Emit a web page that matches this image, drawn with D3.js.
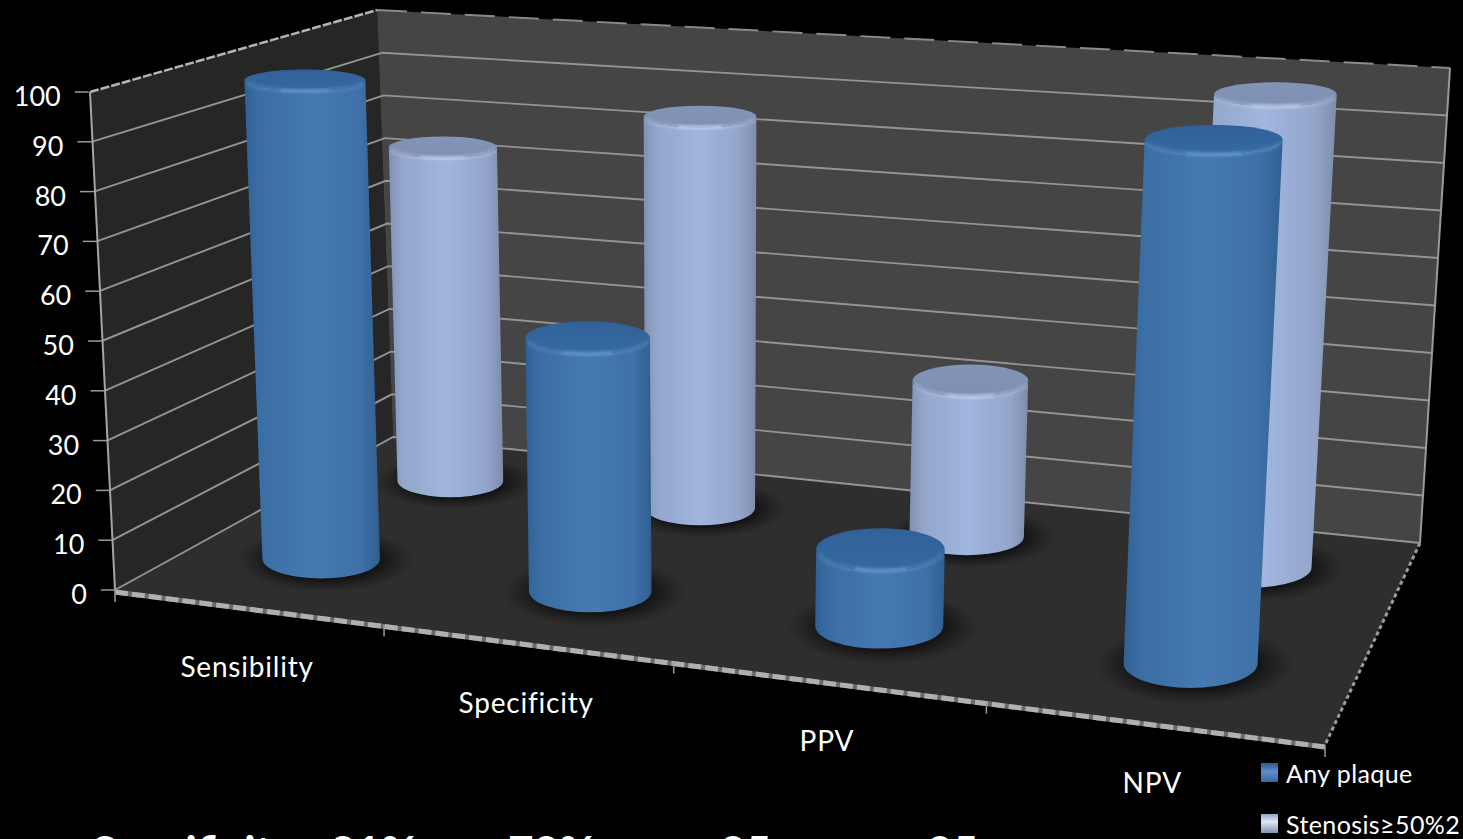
<!DOCTYPE html>
<html>
<head>
<meta charset="utf-8">
<script src="https://cdn.jsdelivr.net/npm/d3@7"></script>
<style>
  html, body { margin: 0; background: #000; overflow: hidden; }
  svg { display: block; }
  text { font-family: Lato, "Open Sans", sans-serif; fill: #fff; }
</style>
</head>
<body>
<div id="chart"></div>
<script>
const categories = ["Sensibility", "Specificity", "PPV", "NPV"];
const seriesNames = ["Any plaque", "Stenosis≥50%2"];
const anyPlaque = [99, 51, 15, 100];
const stenosis = [74.5, 85, 33, 97.5];
const valueTicks = d3.range(0, 101, 10);
const footerCells = ["Specificity", "21%", "78%", "25", "85"];
const footerX = [92, 330, 508, 720, 927];

const width = 1463;
const height = 839;

// corners of the box, floor and top plane, ordered front-left, front-right, back-right, back-left
const floorQuad = [[115, 590], [1325, 745], [1420, 543], [393, 437]];
const topQuad = [[90, 92], [1347, 192], [1450, 68], [377, 10]];

// verticals converge slightly toward a point far below the box
const vanishX = 700;
const lean = 0.9e-4;

function squareToQuad(q) {
  const [[x0, y0], [x1, y1], [x2, y2], [x3, y3]] = q;
  const dx1 = x1 - x2, dx2 = x3 - x2, sx = x0 - x1 + x2 - x3;
  const dy1 = y1 - y2, dy2 = y3 - y2, sy = y0 - y1 + y2 - y3;
  const den = dx1 * dy2 - dx2 * dy1;
  const g = (sx * dy2 - dx2 * sy) / den;
  const h = (dx1 * sy - sx * dy1) / den;
  const a = x1 - x0 + g * x1, b = x3 - x0 + h * x3;
  const d = y1 - y0 + g * y1, e = y3 - y0 + h * y3;
  return (u, v) => {
    const w = g * u + h * v + 1;
    return [(a * u + b * v + x0) / w, (d * u + e * v + y0) / w];
  };
}

const onFloor = squareToQuad(floorQuad);
const onTop = squareToQuad(topQuad);

const yScale = d3.scaleLinear().domain([0, 100]).range([0, 1]);
const uScale = d3.scaleBand().domain(categories).range([0, 1]);
const vScale = d3.scaleBand().domain(seriesNames).range([0.015, 1.015]);
// the cylinders sit a touch left of their band centres
const barU = d3.scaleBand().domain(categories).range([-0.005, 1.001]);

// 3D box coordinate to screen position
function project(u, v, value) {
  const t = yScale(value);
  const a = onFloor(u, v);
  const rise = (a[1] - onTop(u, v)[1]) * t;
  return [a[0] + (a[0] - vanishX) * rise * lean, a[1] - rise];
}

const svg = d3.select("#chart").append("svg").attr("width", width).attr("height", height);
const defs = svg.append("defs");

defs.append("filter").attr("id", "soft").append("feGaussianBlur").attr("stdDeviation", 0.7);
defs.append("filter").attr("id", "rim")
  .attr("x", "-20%").attr("y", "-200%").attr("width", "140%").attr("height", "500%")
  .append("feGaussianBlur").attr("stdDeviation", 1.5);

function addGradient(id, stops, vertical) {
  const g = defs.append("linearGradient").attr("id", id)
    .attr("x1", 0).attr("y1", 0)
    .attr("x2", vertical ? 0 : 1).attr("y2", vertical ? 1 : 0);
  stops.forEach(([offset, color]) => g.append("stop").attr("offset", offset).attr("stop-color", color));
}

addGradient("bodyAny", [[0, "#2f6093"], [0.1, "#3a6da3"], [0.5, "#4579b2"], [0.85, "#3f71a8"], [1, "#315f90"]]);
addGradient("bodySten", [[0, "#7f90b2"], [0.12, "#94a7cb"], [0.5, "#a0b6de"], [0.85, "#93a5cb"], [1, "#7e8cab"]]);
addGradient("capAny", [[0, "#2f6198"], [1, "#356a9f"]], true);
addGradient("capSten", [[0, "#8295b8"], [1, "#7d90b0"]], true);
addGradient("swatchAny", [[0, "#2c5a8e"], [0.45, "#5c90cc"], [1, "#3a689c"]], true);
addGradient("swatchSten", [[0, "#8fa3c8"], [0.4, "#dfe8f7"], [1, "#8091b2"]], true);

const shadowFill = defs.append("radialGradient").attr("id", "shadowFill");
shadowFill.append("stop").attr("offset", 0.6).attr("stop-color", "#0c0c0c").attr("stop-opacity", 0.8);
shadowFill.append("stop").attr("offset", 0.8).attr("stop-color", "#0c0c0c").attr("stop-opacity", 0.35);
shadowFill.append("stop").attr("offset", 1).attr("stop-color", "#0c0c0c").attr("stop-opacity", 0);

const plot = svg.append("g").attr("filter", "url(#soft)");
const polyPath = (pts) => `M${pts.map((p) => p.join(",")).join("L")}Z`;

// walls and floor
plot.append("path").attr("fill", "#272727")
  .attr("d", polyPath([floorQuad[0], floorQuad[3], topQuad[3], topQuad[0]]));
plot.append("path").attr("fill", "#444444")
  .attr("d", polyPath([floorQuad[3], floorQuad[2], topQuad[2], topQuad[3]]));
plot.append("path").attr("fill", "#2f2f2f").attr("d", polyPath(floorQuad));

// gridlines run along the left wall, then the back wall
const grid = plot.append("g").attr("fill", "none").attr("stroke", "#949494").attr("stroke-width", 1.9);
valueTicks.filter((d) => d < 100).forEach((d) => {
  grid.append("path").attr("d", d3.line()([project(0, 0, d), project(0, 1, d), project(1, 1, d)]));
});

const edges = plot.append("g").attr("fill", "none");
edges.append("path").attr("stroke", "#b5b5b5").attr("stroke-width", 2.5).attr("stroke-dasharray", "9 2")
  .attr("d", d3.line()([topQuad[0], topQuad[3]]));
edges.append("path").attr("stroke", "#8a8a8a").attr("stroke-width", 2).attr("stroke-dasharray", "30 14")
  .attr("d", d3.line()([topQuad[3], topQuad[2]]));
edges.append("path").attr("stroke", "#9a9a9a").attr("stroke-width", 2)
  .attr("d", d3.line()([topQuad[2], floorQuad[2]]));
edges.append("path").attr("stroke", "#a5a5a5").attr("stroke-width", 2)
  .attr("d", d3.line()([topQuad[0], floorQuad[0]]));
edges.append("path").attr("stroke", "#9c9c9c").attr("stroke-width", 3).attr("stroke-dasharray", "4 3")
  .attr("d", d3.line()([floorQuad[2], floorQuad[1]]));
// front edge of the floor: a grey strip with lighter blocks over it
edges.append("path").attr("stroke", "#6a6a6a").attr("stroke-width", 5)
  .attr("transform", "translate(0,2)")
  .attr("d", d3.line()([floorQuad[0], floorQuad[1]]));
edges.append("path").attr("stroke", "#b0b0b0").attr("stroke-width", 5).attr("stroke-dasharray", "13 4")
  .attr("transform", "translate(0,2)")
  .attr("d", d3.line()([floorQuad[0], floorQuad[1]]));

// value axis ticks on the front-left edge
const leftAxis = svg.append("g");
valueTicks.forEach((d) => {
  const [x, y] = project(0, 0, d);
  leftAxis.append("line").attr("x1", x - 14).attr("x2", x).attr("y1", y).attr("y2", y)
    .attr("stroke", "#9a9a9a").attr("stroke-width", 1.5);
  leftAxis.append("text").attr("x", x - 28).attr("y", y + 14)
    .attr("text-anchor", "end").attr("font-size", 27).text(d);
});

// category ticks and labels along the front edge
const bottomAxis = svg.append("g");
d3.range(categories.length + 1).forEach((i) => {
  const [x, y] = project(i / categories.length, 0, 0);
  bottomAxis.append("line").attr("x1", x).attr("x2", x).attr("y1", y).attr("y2", y + 12)
    .attr("stroke", "#9a9a9a").attr("stroke-width", 1.5);
});
categories.forEach((c) => {
  const [x, y] = project(uScale(c) + uScale.bandwidth() / 2, 0, 0);
  bottomAxis.append("text").attr("x", x).attr("y", y + 70)
    .attr("text-anchor", "middle").attr("font-size", 28).attr("letter-spacing", 0.8).text(c);
});

// one cylinder per category and series; radii are given in floor units
const rU = 0.05;
const rV = 0.115;

function ringAt(u, v, value) {
  const c = project(u, v, value);
  const raw = Math.abs(project(u + rU, v, 0)[0] - project(u - rU, v, 0)[0]) / 2;
  const rx = 61 * Math.pow(raw / 55, 0.6) * (1 + 0.03 * yScale(value)) * (1 - 0.12 * (v - 0.265));
  const ry = Math.abs(project(u, v + rV, value)[1] - project(u, v - rV, value)[1]) / 2;
  return { x: c[0], y: c[1], rx, ry };
}

const bars = [];
seriesNames.forEach((s, si) => {
  const values = si === 0 ? anyPlaque : stenosis;
  categories.forEach((c, ci) => {
    bars.push({
      series: si,
      value: values[ci],
      u: barU(c) + barU.bandwidth() / 2,
      v: vScale(s) + vScale.bandwidth() / 2,
    });
  });
});
// far row first so the near row overlaps it
bars.sort((a, b) => b.series - a.series);

const shadows = svg.append("g");
const cylinders = svg.append("g").attr("filter", "url(#soft)");

bars.forEach((d) => {
  const base = ringAt(d.u, d.v, 0);
  const top = ringAt(d.u, d.v, d.value);
  const names = d.series === 0 ? ["bodyAny", "capAny", "#6a9dd6"] : ["bodySten", "capSten", "#c2d4f2"];
  const group = cylinders.append("g");

  shadows.append("ellipse")
    .attr("cx", base.x + 4).attr("cy", base.y + 1)
    .attr("rx", base.rx * 1.5).attr("ry", base.ry * 1.65)
    .attr("fill", "url(#shadowFill)");

  group.append("path")
    .attr("fill", `url(#${names[0]})`)
    .attr("d", `M${top.x - top.rx},${top.y}L${base.x - base.rx},${base.y}`
      + `A${base.rx},${base.ry} 0 0 0 ${base.x + base.rx},${base.y}`
      + `L${top.x + top.rx},${top.y}`
      + `A${top.rx},${top.ry} 0 0 1 ${top.x - top.rx},${top.y}Z`);
  group.append("ellipse")
    .attr("cx", top.x).attr("cy", top.y).attr("rx", top.rx).attr("ry", top.ry)
    .attr("fill", `url(#${names[1]})`);

  // soft highlight on the front of the rim, brightest in the middle
  [[0.97, 4, 0.35], [0.4, 2.5, 0.9]].forEach(([spread, strokeW, opacity]) => {
    const dx = top.rx * spread;
    const dy = top.ry * Math.sqrt(1 - spread * spread);
    group.append("path")
      .attr("fill", "none").attr("stroke", names[2])
      .attr("stroke-width", strokeW).attr("stroke-opacity", opacity)
      .attr("filter", "url(#rim)")
      .attr("d", `M${top.x - dx},${top.y + dy}`
        + `A${top.rx},${top.ry} 0 0 0 ${top.x + dx},${top.y + dy}`);
  });
});

// legend
const legend = svg.append("g");
seriesNames.forEach((s, i) => {
  const y = 763 + i * 51;
  legend.append("rect").attr("x", 1261).attr("y", y).attr("width", 17).attr("height", 19)
    .attr("fill", `url(#${i === 0 ? "swatchAny" : "swatchSten"})`);
  legend.append("text").attr("x", 1286).attr("y", y + 20).attr("font-size", 25)
    .attr("letter-spacing", 0.4).text(s);
});

// table row that runs off the bottom of the slide
const footer = svg.append("g");
footerCells.forEach((t, i) => {
  footer.append("text").attr("x", footerX[i]).attr("y", 868)
    .attr("font-size", 44).attr("font-weight", 700).attr("fill", "#eee").text(t);
});
</script>
</body>
</html>
